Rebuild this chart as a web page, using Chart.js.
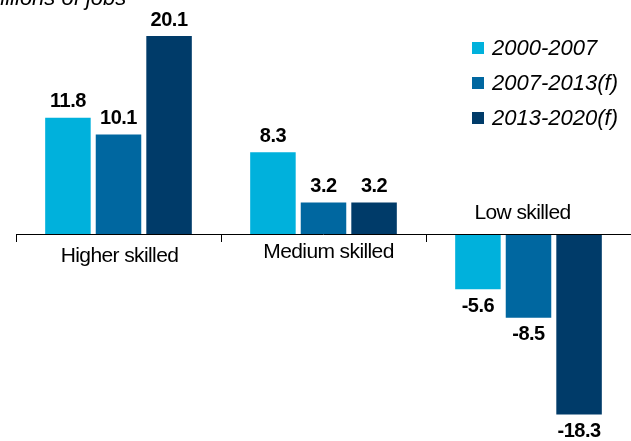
<!DOCTYPE html>
<html>
<head>
<meta charset="utf-8">
<script src="https://cdn.jsdelivr.net/npm/chart.js@4.4.1/dist/chart.umd.min.js"></script>
<style>
  html, body { margin: 0; padding: 0; background: #fff; }
  #wrap { width: 631px; height: 441px; }
</style>
</head>
<body>
<div id="wrap"><canvas id="jobsChart" width="631" height="441"></canvas></div>
<script>
const categories = ['Higher skilled', 'Medium skilled', 'Low skilled'];
const seriesNames = ['2000-2007', '2007-2013(f)', '2013-2020(f)'];
const s2000 = [11.8, 8.3, -5.6];
const s2007 = [10.1, 3.2, -8.5];
const s2013 = [20.1, 3.2, -18.3];
const colours = ['#00b1dc', '#0067a0', '#003b69'];
const unitLabel = 'Millions of jobs';

const FONT = '"Liberation Sans", Arial, Helvetica, sans-serif';

const drawExtras = {
    id: 'drawExtras',
    afterDatasetsDraw(chart) {
        const ctx = chart.ctx;
        const x = chart.scales.x;
        const y = chart.scales.y;
        const area = chart.chartArea;
        const zero = Math.round(y.getPixelForValue(0));

        ctx.save();
        // zero line with category ticks
        ctx.strokeStyle = '#000';
        ctx.lineWidth = 1;
        ctx.beginPath();
        ctx.moveTo(area.left, zero + 0.5);
        ctx.lineTo(area.right, zero + 0.5);
        const step = x.getPixelForValue(1) - x.getPixelForValue(0);
        for (let i = 0; i < categories.length; i++) {
            const tx = Math.round(x.getPixelForValue(i) - step / 2) + 0.5;
            ctx.moveTo(tx, zero);
            ctx.lineTo(tx, zero + 8);
        }
        ctx.stroke();

        // value labels
        ctx.fillStyle = '#000';
        ctx.font = 'bold 20px ' + FONT;
        ctx.letterSpacing = '-0.5px';
        ctx.textAlign = 'center';
        ctx.textBaseline = 'middle';
        chart.data.datasets.forEach((ds, di) => {
            const meta = chart.getDatasetMeta(di);
            meta.data.forEach((bar, i) => {
                const v = ds.data[i];
                const ly = v >= 0 ? bar.y - 16 : bar.y + 17;
                ctx.fillText(v.toFixed(1), bar.x, ly);
            });
        });

        // category labels
        ctx.font = '21px ' + FONT;
        ctx.letterSpacing = '-0.6px';
        ctx.fillText(categories[0], x.getPixelForValue(0) + 1, zero + 22);
        ctx.fillText(categories[1], x.getPixelForValue(1) + 5, zero + 18);
        ctx.fillText(categories[2], x.getPixelForValue(2) - 6, zero - 21);

        // legend
        ctx.font = 'italic 22px ' + FONT;
        ctx.letterSpacing = '0px';
        ctx.textAlign = 'left';
        seriesNames.forEach((name, i) => {
            const ly = 48 + i * 35;
            ctx.fillStyle = colours[i];
            ctx.fillRect(472, ly - 6, 12, 12);
            ctx.fillStyle = '#000';
            ctx.fillText(name, 492, ly + 1);
        });

        // unit title, cut off at the top
        ctx.textBaseline = 'alphabetic';
        ctx.fillText(unitLabel, -18, 5);
        ctx.restore();
    }
};

new Chart(document.getElementById('jobsChart'), {
    type: 'bar',
    data: {
        labels: categories,
        datasets: [
            { label: seriesNames[0], data: s2000, backgroundColor: colours[0] },
            { label: seriesNames[1], data: s2007, backgroundColor: colours[1] },
            { label: seriesNames[2], data: s2013, backgroundColor: colours[2] }
        ]
    },
    options: {
        responsive: false,
        animation: false,
        layout: { padding: { left: 16, right: 0, top: 0, bottom: 0 } },
        datasets: {
            bar: { categoryPercentage: 0.74, barPercentage: 0.9 }
        },
        plugins: {
            legend: { display: false },
            tooltip: { enabled: false }
        },
        scales: {
            x: {
                display: false,
                offset: true
            },
            y: {
                display: false,
                min: -21.0,
                max: 23.76
            }
        }
    },
    plugins: [drawExtras]
});
</script>
</body>
</html>
